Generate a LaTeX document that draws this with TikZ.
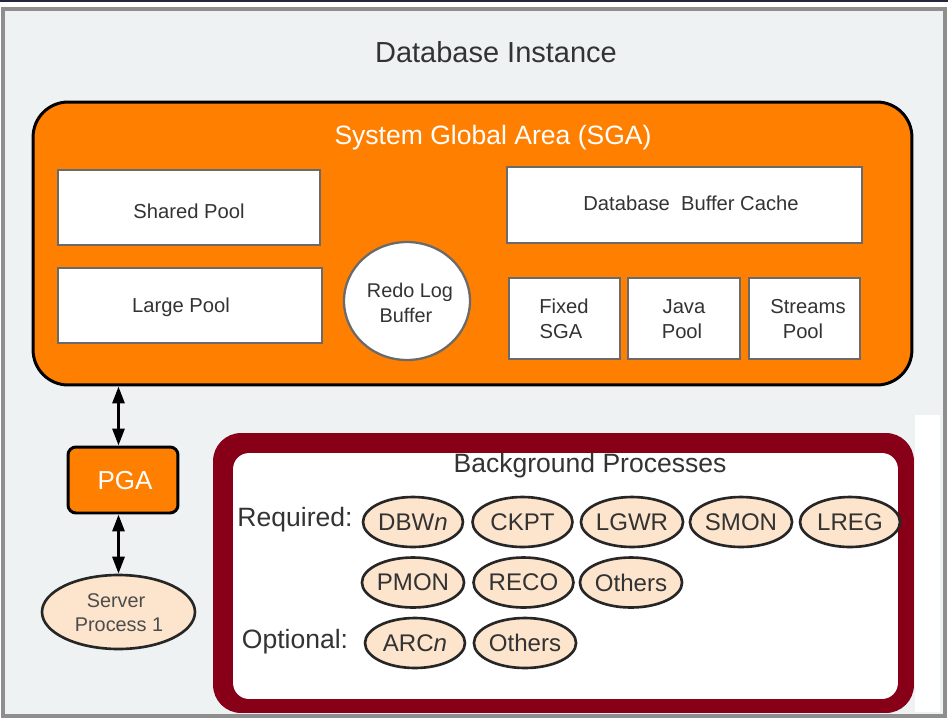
\documentclass[tikz,border=0pt]{standalone}
\usepackage{fontspec}
\setmainfont{Liberation Sans}
\usetikzlibrary{arrows.meta,shapes.geometric}
\definecolor{sgaorange}{HTML}{FF7F00}
\definecolor{bgred}{HTML}{870017}
\definecolor{peach}{HTML}{FDE4CC}
\definecolor{bggray}{HTML}{EEF2F3}
\definecolor{framegray}{HTML}{8E8E8E}
\definecolor{txtdark}{HTML}{333333}
\definecolor{boxgray}{HTML}{6A6A6A}
\definecolor{topline}{HTML}{26263A}
\tikzset{
  whitebox/.style={draw=boxgray, fill=white, line width=1.3pt, inner sep=0pt},
  proc/.style={ellipse, draw=black!85, fill=peach, line width=1.5pt, inner sep=0pt,
    minimum width=2cm, minimum height=1cm, text=txtdark, font=\fontsize{13.7}{16}\selectfont},
  lbl/.style={anchor=base, text=txtdark, inner sep=0pt},
  smallfont/.style={font=\fontsize{11.5}{13}\selectfont},
  arr/.style={line width=0.06cm, {Triangle[length=0.34cm,width=0.24cm]}-{Triangle[length=0.34cm,width=0.24cm]}}
}
\begin{document}
\begin{tikzpicture}[x=0.02cm,y=-0.02cm]
\useasboundingbox (0,0) rectangle (948,718);
\fill[white] (0,0) rectangle (948,718);
\fill[topline] (0,0) rectangle (948,2);
\path[fill=bggray, draw=framegray, line width=0.08cm] (3,9) rectangle (945,716);
\fill[white] (915,415) rectangle (940,712);

% title
\node[lbl, font=\fontsize{16.5}{19}\selectfont] (title) at (496,62) {Database Instance};

% SGA
\node[draw=black, fill=sgaorange, line width=1.7pt, rounded corners=0.7cm,
  minimum width=17.58cm, minimum height=5.66cm, inner sep=0pt] (sga) at (472.5,243.5) {};
\node[lbl, text=white, font=\fontsize{15.1}{18}\selectfont] (sgatitle) at (493,144) {System Global Area (SGA)};

\node[whitebox, minimum width=5.24cm, minimum height=1.5cm] (shared) at (189,207.5) {};
\node[lbl, smallfont] (sharedt) at (189,218) {Shared Pool};
\node[whitebox, minimum width=5.28cm, minimum height=1.5cm] (large) at (190,305.5) {};
\node[lbl, smallfont] (larget) at (181,312) {Large Pool};

\node[ellipse, draw=boxgray, fill=white, line width=1.3pt, minimum width=2.52cm, minimum height=2.36cm, inner sep=0pt] (redo) at (407,301) {};
\node[lbl, font=\fontsize{11.3}{13}\selectfont] (redo1) at (410,297) {Redo Log};
\node[lbl, font=\fontsize{11.3}{13}\selectfont] (redo2) at (406,322) {Buffer};

\node[whitebox, minimum width=7.1cm, minimum height=1.52cm] (dbbc) at (684.5,205) {};
\node[lbl, smallfont] (dbbct) at (691,210) {Database\ \ Buffer Cache};

\node[whitebox, minimum width=2.22cm, minimum height=1.62cm] (fixed) at (564.5,318.5) {};
\node[lbl, smallfont] (fixed1) at (564,313) {Fixed};
\node[lbl, smallfont] (fixed2) at (561,338) {SGA};
\node[whitebox, minimum width=2.24cm, minimum height=1.62cm] (java) at (684,318.5) {};
\node[lbl, smallfont] (java1) at (684,313) {Java};
\node[lbl, smallfont] (java2) at (682,338) {Pool};
\node[whitebox, minimum width=2.22cm, minimum height=1.62cm] (streams) at (804.5,318.5) {};
\node[lbl, smallfont] (streams1) at (808,313) {Streams};
\node[lbl, smallfont] (streams2) at (803,338) {Pool};

% PGA and server process
\node[draw=black, fill=sgaorange, line width=1.7pt, rounded corners=0.16cm,
  minimum width=2.2cm, minimum height=1.32cm, inner sep=0pt] (pga) at (123,480) {};
\node[lbl, text=white, font=\fontsize{14.8}{17}\selectfont] (pgat) at (125,489) {PGA};
\node[ellipse, draw=black!85, fill=peach, line width=1.5pt, minimum width=3.06cm, minimum height=1.48cm, inner sep=0pt] (server) at (118.5,612) {};
\node[lbl, font=\fontsize{11.3}{13}\selectfont, text=black!70] (server1) at (116,607) {Server};
\node[lbl, font=\fontsize{11.3}{13}\selectfont, text=black!70] (server2) at (119,631) {Process 1};

\draw[arr] (sga.south -| server.north) -- (pga.north -| server.north);
\draw[arr] (pga.south -| server.north) -- (server.north);

% background processes
\node[fill=bgred, rounded corners=0.56cm, minimum width=14.02cm, minimum height=5.6cm, inner sep=0pt] (bgouter) at (563.5,573) {};
\node[fill=white, rounded corners=0.32cm, minimum width=13.3cm, minimum height=4.92cm, inner sep=0pt] (bginner) at (565.5,576) {};
\node[lbl, font=\fontsize{15.1}{18}\selectfont] (bgt) at (590,472) {Background Processes};
\node[lbl, font=\fontsize{15.1}{18}\selectfont] (req) at (295,526) {Required:};
\node[lbl, font=\fontsize{15.1}{18}\selectfont] (opt) at (295,648) {Optional:};

\node[proc] (dbwn) at (413,522) {DBW\textit{n}};
\node[proc] (ckpt) at (522.5,522) {CKPT};
\node[proc] (lgwr) at (632,522) {LGWR};
\node[proc] (smon) at (741,522) {SMON};
\node[proc] (lreg) at (850,522) {LREG};
\node[proc] (pmon) at (413,582.5) {PMON};
\node[proc] (reco) at (523.5,582.5) {RECO};
\node[proc] (others1) at (631,582.5) {Others};
\node[proc] (arcn) at (415,643) {ARC\textit{n}};
\node[proc] (others2) at (525,643) {Others};
\end{tikzpicture}
\end{document}
